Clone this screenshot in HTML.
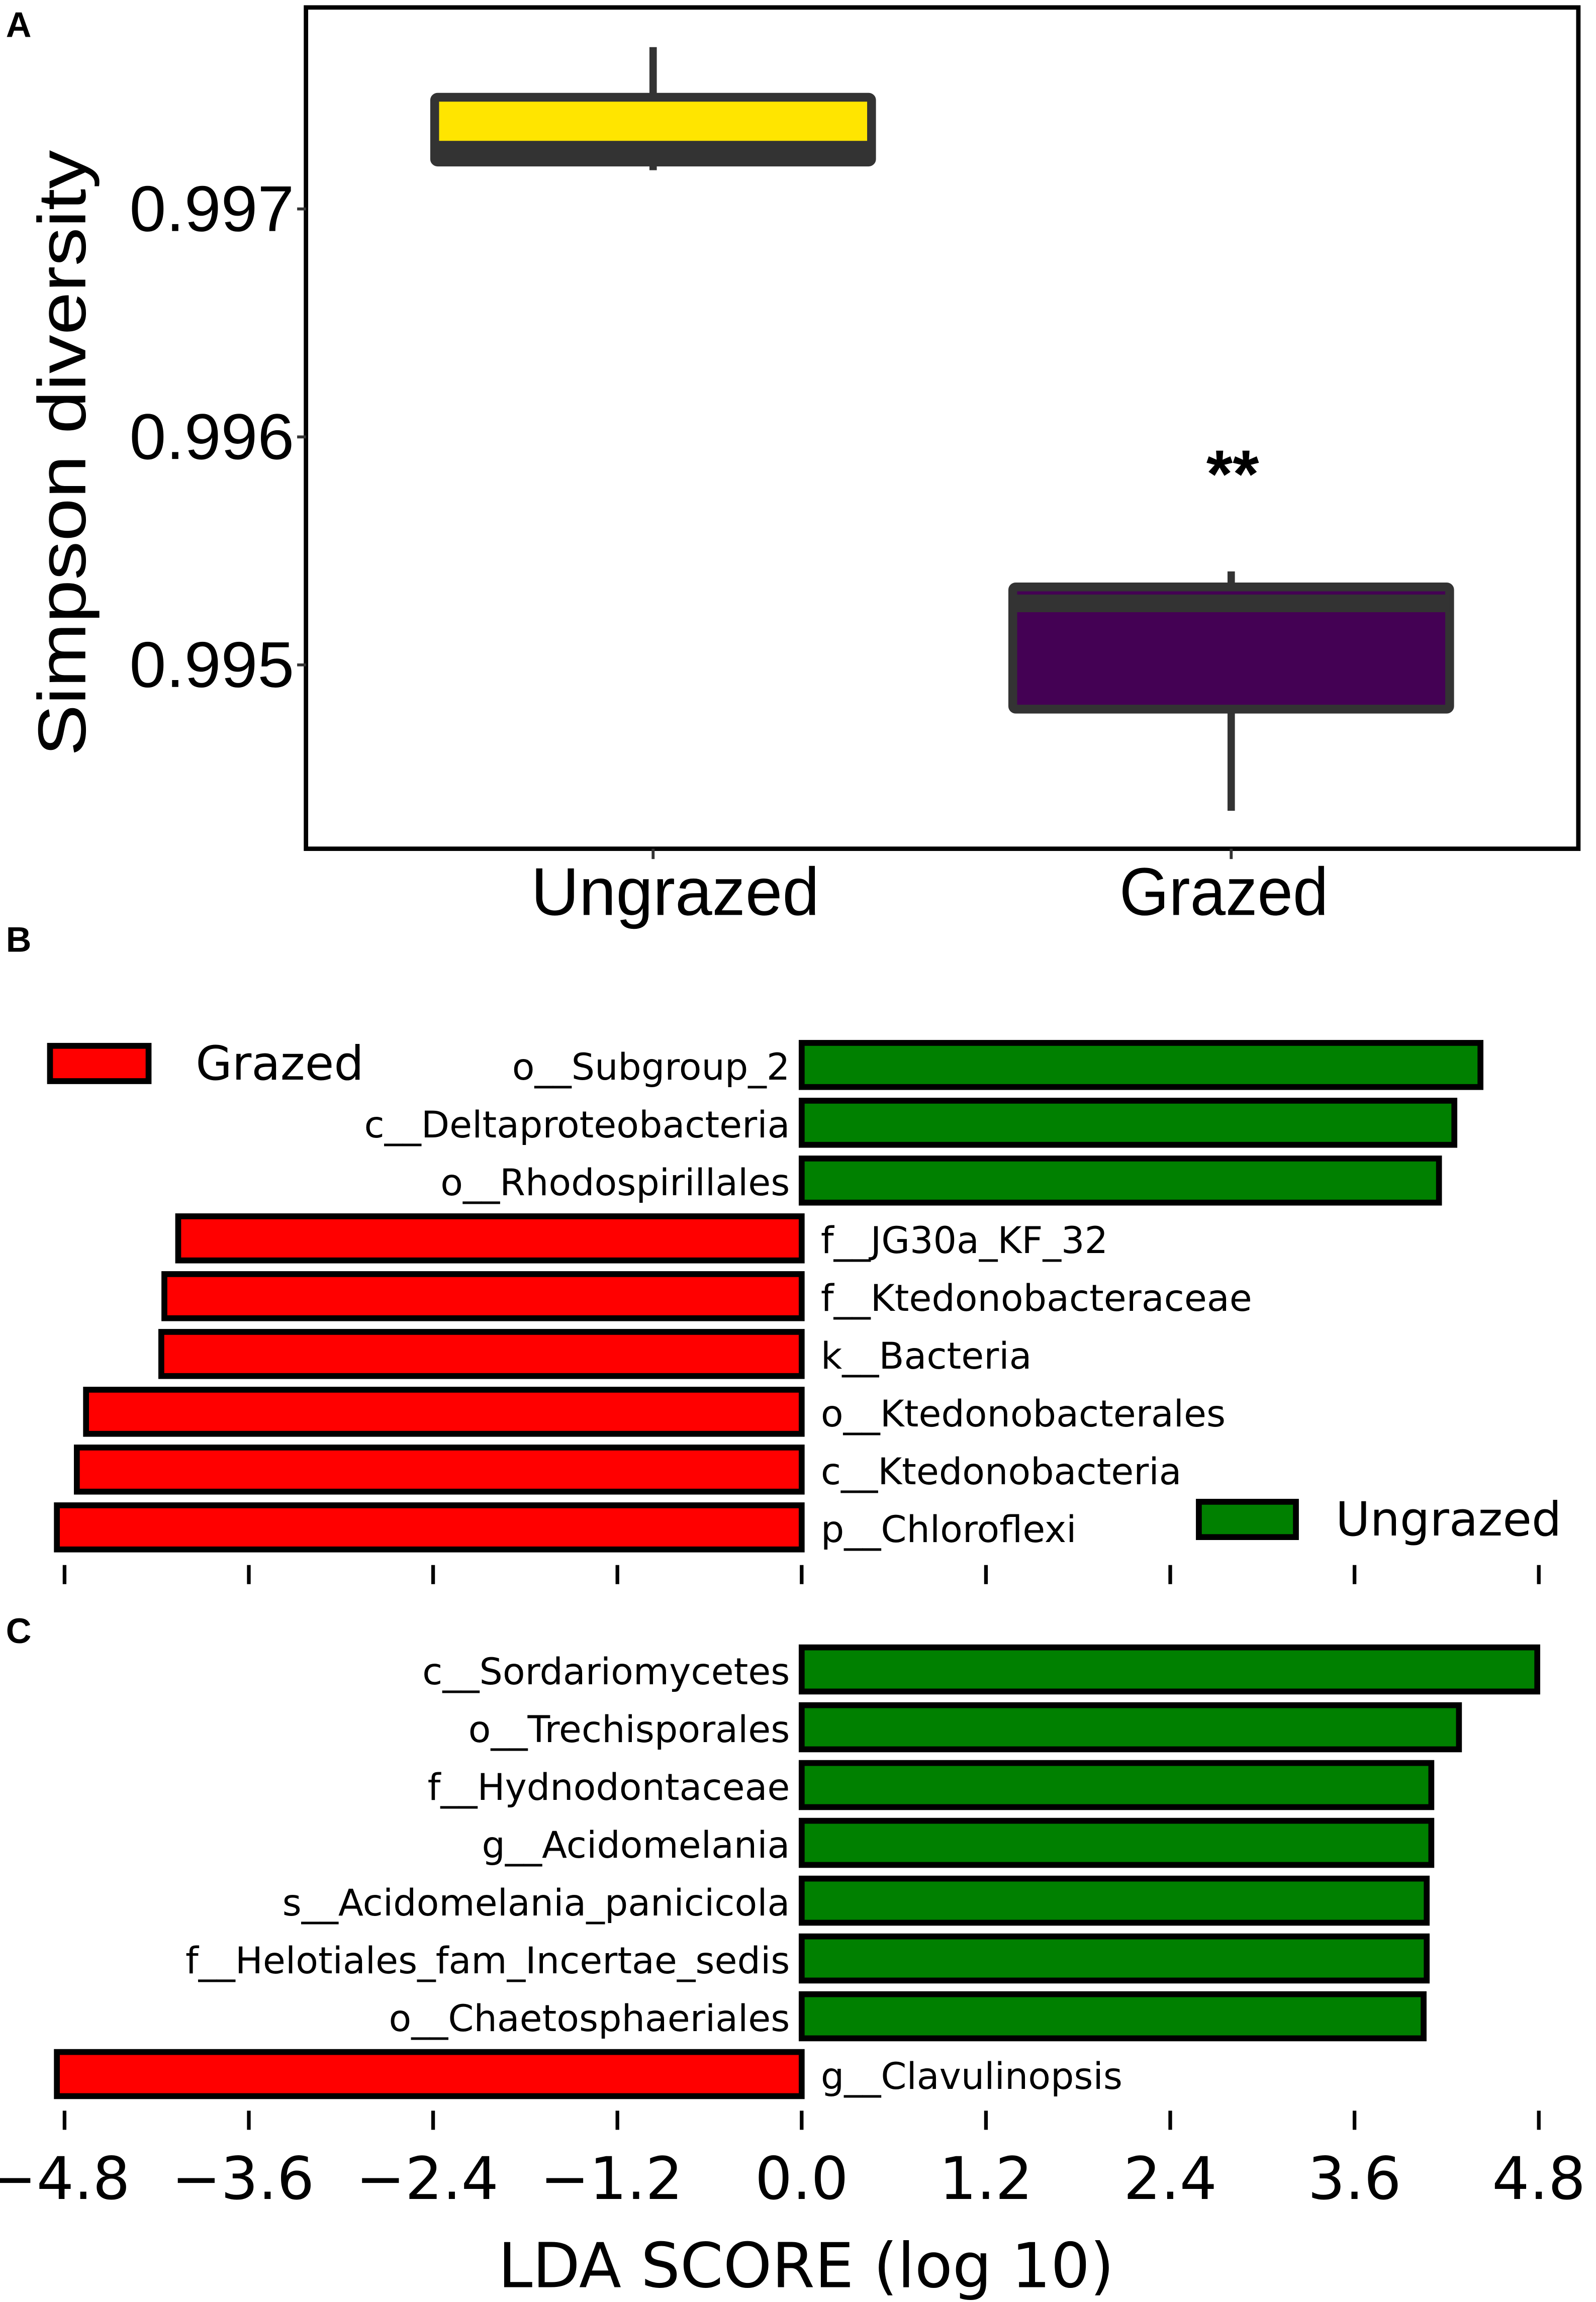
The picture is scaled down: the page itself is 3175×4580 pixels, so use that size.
<!DOCTYPE html>
<html><head><meta charset="utf-8"><style>
html,body{margin:0;padding:0;background:#fff}
svg{display:block}
text{font-family:"Liberation Sans Narrow","Liberation Sans",sans-serif;fill:#000}
</style></head><body>
<svg id="fig" width="3175" height="4580" viewBox="0 0 1085 1565" xmlns="http://www.w3.org/2000/svg">
<rect width="1085" height="1565" fill="#fff"/>
<g id="pa"></g>
<g id="pb"></g>
<g id="pc"></g>
</svg>
<script>
// Panel A data
const boxGroups = ["Ungrazed","Grazed"];
const boxMin = [0.99717, 0.99436];
const boxQ1 = [0.997206, 0.994806];
const boxMed = [0.99726, 0.99527];
const boxQ3 = [0.99749, 0.995342];
const boxMax = [0.99771, 0.99541];
const boxColors = ["#ffe500","#440154"];
const aTicks = [0.997, 0.996, 0.995];
const aTickLabels = ["0.997","0.996","0.995"];
// Panel B data
const bCats = ["o__Subgroup_2","c__Deltaproteobacteria","o__Rhodospirillales","f__JG30a_KF_32","f__Ktedonobacteraceae","k__Bacteria","o__Ktedonobacterales","c__Ktedonobacteria","p__Chloroflexi"];
const bVals = [4.42,4.25,4.15,-4.06,-4.15,-4.17,-4.66,-4.72,-4.85];
// Panel C data
const cCats = ["c__Sordariomycetes","o__Trechisporales","f__Hydnodontaceae","g__Acidomelania","s__Acidomelania_panicicola","f__Helotiales_fam_Incertae_sedis","o__Chaetosphaeriales","g__Clavulinopsis"];
const cVals = [4.79,4.28,4.10,4.10,4.07,4.07,4.05,-4.85];
const xTicks = [-4.8,-3.6,-2.4,-1.2,0,1.2,2.4,3.6,4.8];
const xTickLabels = ["\u22124.8","\u22123.6","\u22122.4","\u22121.2","0.0","1.2","2.4","3.6","4.8"];

const NS="http://www.w3.org/2000/svg";
function mk(parent,tag,attrs,txt){const e=document.createElementNS(NS,tag);for(const k in attrs)e.setAttribute(k,attrs[k]);if(txt!==undefined)e.textContent=txt;parent.appendChild(e);return e;}

// ---- Panel A
const pa=document.getElementById('pa');
const yA=v=>142+(0.997-v)*155000;
const xA=i=>444+i*393;
let t=mk(pa,'text',{x:4,y:25,'font-size':24,'font-weight':'bold'},'A');


let fr=mk(pa,'rect',{x:208,y:5,width:865,height:572,fill:'none',stroke:'#000','stroke-width':3});


aTicks.forEach((v,i)=>{
  const ln=mk(pa,'line',{x1:202,x2:208,y1:yA(v),y2:yA(v),stroke:'#333','stroke-width':2});
  
  
  const tx=mk(pa,'text',{x:200,y:yA(v)+15,'font-size':44,'text-anchor':'end',textLength:112,lengthAdjust:'spacingAndGlyphs'},aTickLabels[i]);
  
  
});
t=mk(pa,'text',{x:0,y:0,'font-size':46,'text-anchor':'middle',transform:'translate(58,308) rotate(-90)',textLength:412,lengthAdjust:'spacingAndGlyphs',style:'font-family:"Liberation Sans",sans-serif'},'Simpson diversity');


boxGroups.forEach((g,i)=>{
  const cx=xA(i), w=297;
  const wl=mk(pa,'line',{x1:cx,x2:cx,y1:yA(boxMax[i]),y2:yA(boxMin[i]),stroke:'#333','stroke-width':5});
  
  
  const b=mk(pa,'rect',{x:cx-w/2,y:yA(boxQ3[i]),width:w,height:yA(boxQ1[i])-yA(boxQ3[i]),fill:boxColors[i],stroke:'#333','stroke-width':6,rx:2});
  
  
  const m=mk(pa,'line',{x1:cx-w/2,x2:cx+w/2,y1:yA(boxMed[i]),y2:yA(boxMed[i]),stroke:'#333','stroke-width':12});
  
  
  const tk=mk(pa,'line',{x1:cx,x2:cx,y1:577,y2:584,stroke:'#333','stroke-width':2});
  
  
  const lb=mk(pa,'text',{x:cx+(i?-5:15),y:622,'font-size':46,'text-anchor':'middle',textLength:i?142:196,lengthAdjust:'spacingAndGlyphs'},g);
  
  
});
t=mk(pa,'text',{x:838,y:338,'font-size':46,'text-anchor':'middle','font-weight':'bold'},'**');



// ---- LDA panels
const xL=v=>545+v*104.4;
function lda(g,cats,vals,y0,tickY,label,labelY){
  let pl=mk(g,'text',{x:4,y:labelY,'font-size':24,'font-weight':'bold'},label);
  
  
  cats.forEach((c,i)=>{
    const cy=y0+i*39.3, v=vals[i];
    const x1=Math.min(xL(0),xL(v)), x2=Math.max(xL(0),xL(v));
    const r=mk(g,'rect',{x:x1,y:cy-15,width:x2-x1,height:30,fill:v>0?'#008000':'#ff0000',stroke:'#000','stroke-width':4});
    
    
    const tx=mk(g,'text',{x:v>0?537:558,y:cy+10,'font-size':25,'text-anchor':v>0?'end':'start',style:'font-family:"DejaVu Sans",sans-serif'},c);
    
    
  });
  xTicks.forEach(v=>{
    const l=mk(g,'line',{x1:xL(v),x2:xL(v),y1:tickY,y2:tickY+13,stroke:'#000','stroke-width':2.5});
    
    
  });
}
const pb=document.getElementById('pb'), pc=document.getElementById('pc');
lda(pb,bCats,bVals,724,1064,'B',647);
lda(pc,cCats,cVals,1135,1435,'C',1117);
// legends
let lg=mk(pb,'rect',{x:34,y:711,width:67,height:24,fill:'#ff0000',stroke:'#000','stroke-width':4});


lg=mk(pb,'text',{x:133,y:734,'font-size':32,style:'font-family:"DejaVu Sans",sans-serif'},'Grazed');


lg=mk(pb,'rect',{x:815,y:1021,width:66,height:24,fill:'#008000',stroke:'#000','stroke-width':4});


lg=mk(pb,'text',{x:908,y:1044,'font-size':32,style:'font-family:"DejaVu Sans",sans-serif'},'Ungrazed');


xTicks.forEach((v,i)=>{
  const tx=mk(pc,'text',{x:xL(v)+(v<0?-4:0),y:1495,'font-size':40,'text-anchor':'middle',style:'font-family:"DejaVu Sans",sans-serif'},xTickLabels[i]);
  
  
});
t=mk(pc,'text',{x:548,y:1555,'font-size':42,'text-anchor':'middle',style:'font-family:"DejaVu Sans",sans-serif'},'LDA SCORE (log 10)');


</script>
</body></html>
